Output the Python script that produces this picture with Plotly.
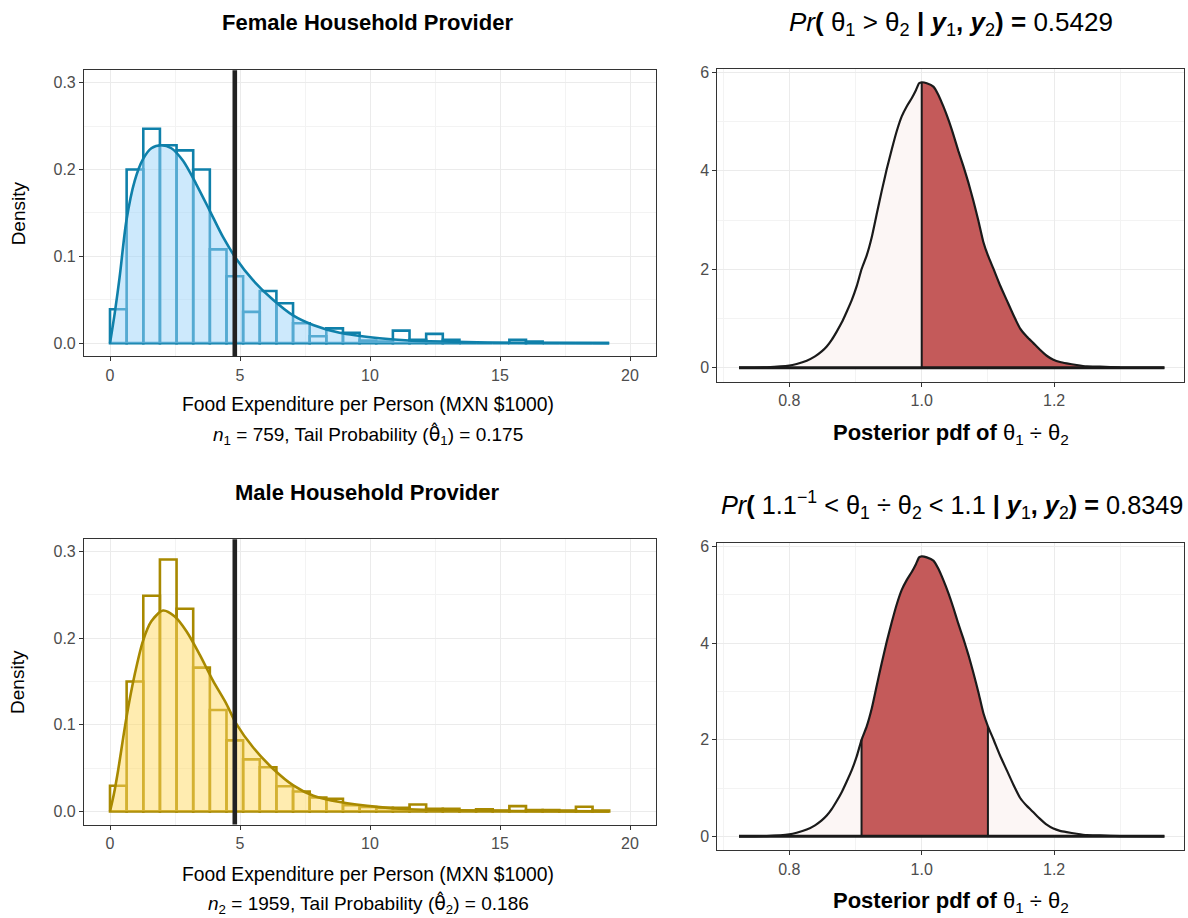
import plotly.graph_objects as go

# ---------------- data ----------------
bin_starts = [0.0, 0.64, 1.28, 1.92, 2.56, 3.2, 3.84, 4.48, 5.12, 5.76,
              6.4, 7.04, 7.68, 8.32, 8.96, 9.6, 10.24, 10.88, 11.52, 12.16,
              12.8, 13.44, 14.08, 14.72, 15.36, 16.0, 16.64, 17.28, 17.92, 18.56]
bin_width = 0.64

female_density = [0.039, 0.200, 0.247, 0.228, 0.222, 0.200, 0.108, 0.077, 0.036, 0.060,
                  0.046, 0.023, 0.008, 0.017, 0.012, 0.003, 0.002, 0.0145, 0.004, 0.0107,
                  0.004, 0.0, 0.0, 0.0, 0.004, 0.002, 0.0, 0.0, 0.0, 0.0]
male_density = [0.0295, 0.150, 0.249, 0.291, 0.234, 0.166, 0.117, 0.082, 0.060, 0.051,
                0.029, 0.023, 0.016, 0.0146, 0.007, 0.005, 0.004, 0.004, 0.008, 0.003,
                0.003, 0.001, 0.0024, 0.001, 0.006, 0.0015, 0.0015, 0.0008, 0.0054, 0.0008]

female_curve_x = [0, 0.18, 0.37, 0.63, 0.95, 1.27, 1.59, 1.98, 2.36, 2.81, 3.32, 3.83, 4.35,
                  4.86, 5.5, 6.27, 7.04, 7.81, 8.83, 10.37, 11.5, 13.3, 15.5, 19.2]
female_curve_y = [0, 0.034, 0.076, 0.141, 0.187, 0.212, 0.2245, 0.228, 0.2245, 0.210, 0.183,
                  0.153, 0.122, 0.097, 0.0725, 0.050, 0.032, 0.021, 0.012, 0.0057, 0.003,
                  0.0015, 0.0005, 0.0]
male_curve_x = [0, 0.15, 0.31, 0.63, 0.95, 1.27, 1.59, 2.04, 2.49, 2.94, 3.45, 3.96, 4.48,
                4.86, 5.5, 6.28, 7.05, 7.82, 8.84, 10.37, 11.5, 13.3, 15.5, 19.2]
male_curve_y = [0, 0.02, 0.047, 0.108, 0.158, 0.197, 0.2195, 0.232, 0.225, 0.208, 0.181,
                0.151, 0.124, 0.101, 0.074, 0.049, 0.030, 0.018, 0.0107, 0.0049, 0.0025,
                0.0012, 0.0004, 0.0]

threshold = 4.8
n1, n2 = 759, 1959
tail1, tail2 = 0.175, 0.186

ratio_x = [0.724, 0.7659, 0.8, 0.8111, 0.8263, 0.8388, 0.8489, 0.8565, 0.864, 0.8716,
           0.8791, 0.8867, 0.8943, 0.9018, 0.9091, 0.9169, 0.9245, 0.932, 0.9396, 0.9471,
           0.9547, 0.9622, 0.9698, 0.9773, 0.9849, 0.9914, 0.996, 1.0, 1.0076, 1.0176,
           1.0252, 1.0327, 1.0403, 1.0478, 1.0554, 1.0629, 1.0705, 1.078, 1.0856, 1.0932,
           1.1, 1.1083, 1.1183, 1.1284, 1.1385, 1.1485, 1.1586, 1.1687, 1.1787, 1.1888,
           1.1989, 1.2089, 1.219, 1.2341, 1.2492, 1.2693, 1.2995, 1.3666]
ratio_dens = [0.0, 0.0067, 0.040, 0.074, 0.141, 0.229, 0.330, 0.430, 0.565, 0.733,
              0.915, 1.137, 1.372, 1.655, 2.0, 2.280, 2.650, 3.121, 3.592, 4.029,
              4.433, 4.803, 5.105, 5.307, 5.475, 5.643, 5.778, 5.798, 5.778, 5.711,
              5.542, 5.307, 5.038, 4.735, 4.399, 4.096, 3.760, 3.390, 2.986, 2.549,
              2.28, 2.011, 1.675, 1.372, 1.069, 0.800, 0.632, 0.498, 0.363, 0.242,
              0.161, 0.114, 0.087, 0.054, 0.027, 0.020, 0.007, 0.0]

prob_greater = 0.5429
prob_interval = 0.8349
ratio_cut = 1.0
interval_lo, interval_hi = 0.9091, 1.1

# ---------------- styles ----------------
FONT = "Liberation Sans, Arial, Helvetica, sans-serif"
BLUE = "#0F80AA"
BLUE_FILL = "rgba(155,211,249,0.5)"
GOLD = "#A88900"
GOLD_FILL = "rgba(255,217,97,0.5)"
RED = "#C45A5A"
LIGHT = "#FCF6F5"
INK = "#1A1A1A"

W, H = 1188, 918


def px_x(a, b):
    return [a / W, b / W]


def px_y(top, bottom):
    return [1 - bottom / H, 1 - top / H]


fig = go.Figure()

bin_centers = [s + bin_width / 2 for s in bin_starts]


def add_hist(dens, cx, cy, color, fill, xa, ya):
    fig.add_trace(go.Bar(x=bin_centers, y=dens, width=bin_width,
                         marker=dict(color="rgba(0,0,0,0)", line=dict(color=color, width=2.6)),
                         xaxis=xa, yaxis=ya, showlegend=False, hoverinfo="skip"))
    fig.add_trace(go.Scatter(x=cx, y=cy, mode="lines", fill="tozeroy", fillcolor=fill,
                             line=dict(color=color, width=2.6, shape="spline", smoothing=0.8),
                             xaxis=xa, yaxis=ya, showlegend=False, hoverinfo="skip"))


add_hist(female_density, female_curve_x, female_curve_y, BLUE, BLUE_FILL, "x", "y")
add_hist(male_density, male_curve_x, male_curve_y, GOLD, GOLD_FILL, "x3", "y3")

SPL = dict(shape="spline", smoothing=0.5)


def add_posterior(xa, ya, lo, hi, cuts):
    fig.add_trace(go.Scatter(x=ratio_x, y=ratio_dens, mode="lines", fill="tozeroy",
                             fillcolor=LIGHT, line=dict(width=0, **SPL), xaxis=xa, yaxis=ya,
                             showlegend=False, hoverinfo="skip"))
    sx = [x for x in ratio_x if lo <= x <= hi]
    sy = [d for x, d in zip(ratio_x, ratio_dens) if lo <= x <= hi]
    fig.add_trace(go.Scatter(x=sx, y=sy, mode="lines", fill="tozeroy",
                             fillcolor=RED, line=dict(width=0, **SPL), xaxis=xa, yaxis=ya,
                             showlegend=False, hoverinfo="skip"))
    for c in cuts:
        d = ratio_dens[ratio_x.index(c)]
        fig.add_trace(go.Scatter(x=[c, c], y=[0, d], mode="lines",
                                 line=dict(color=INK, width=2), xaxis=xa, yaxis=ya,
                                 showlegend=False, hoverinfo="skip"))
    fig.add_trace(go.Scatter(x=[ratio_x[0], ratio_x[-1]], y=[0, 0], mode="lines",
                             line=dict(color=INK, width=3), xaxis=xa, yaxis=ya,
                             showlegend=False, hoverinfo="skip"))
    fig.add_trace(go.Scatter(x=ratio_x, y=ratio_dens, mode="lines",
                             line=dict(color=INK, width=2.2, **SPL), xaxis=xa, yaxis=ya,
                             showlegend=False, hoverinfo="skip"))


add_posterior("x2", "y2", ratio_cut, ratio_x[-1], [ratio_cut])
add_posterior("x4", "y4", interval_lo, interval_hi, [interval_lo, interval_hi])

# threshold lines
for xr, yr in (("x", "y domain"), ("x3", "y3 domain")):
    fig.add_shape(type="line", x0=threshold, x1=threshold, y0=0, y1=1, xref=xr, yref=yr,
                  line=dict(color="#222222", width=4.6), layer="above")

axis_common = dict(showline=True, mirror=True, linecolor="#333333", linewidth=1.1,
                   ticks="outside", ticklen=4, tickwidth=1, tickcolor="#333333",
                   showgrid=True, gridcolor="#EBEBEB", gridwidth=1.3, zeroline=False,
                   tickfont=dict(family=FONT, size=16, color="#4D4D4D"))

left_x = dict(range=[-1.0, 21.0], tickvals=[0, 5, 10, 15, 20],
              minor=dict(tickvals=[2.5, 7.5, 12.5, 17.5], showgrid=True,
                         gridcolor="#F3F3F3", gridwidth=0.7, ticks=""))
left_y = dict(range=[-0.0152, 0.3142], tickvals=[0, 0.1, 0.2, 0.3], tickformat=".1f",
              minor=dict(tickvals=[0.05, 0.15, 0.25], showgrid=True,
                         gridcolor="#F3F3F3", gridwidth=0.7, ticks=""))
right_x = dict(range=[0.6912, 1.3962], tickvals=[0.8, 1.0, 1.2], tickformat=".1f",
               minor=dict(tickvals=[0.7, 0.9, 1.1, 1.3], showgrid=True,
                          gridcolor="#F3F3F3", gridwidth=0.7, ticks=""))
right_y = dict(range=[-0.29, 6.075], tickvals=[0, 2, 4, 6],
               minor=dict(tickvals=[1, 3, 5], showgrid=True,
                          gridcolor="#F3F3F3", gridwidth=0.7, ticks=""))

fig.update_layout(
    width=W, height=H, margin=dict(l=0, r=0, t=0, b=0),
    paper_bgcolor="white", plot_bgcolor="white", showlegend=False,
    font=dict(family=FONT, color="black"),
    xaxis=dict(domain=px_x(84, 656), anchor="y", **axis_common, **left_x),
    yaxis=dict(domain=px_y(65.7, 353.3), anchor="x", **axis_common, **left_y),
    xaxis2=dict(domain=px_x(717.3, 1184), anchor="y2", **axis_common, **right_x),
    yaxis2=dict(domain=px_y(64, 379), anchor="x2", **axis_common, **right_y),
    xaxis3=dict(domain=px_x(84, 656), anchor="y3", **axis_common, **left_x),
    yaxis3=dict(domain=px_y(537.3, 824), anchor="x3", **axis_common, **left_y),
    xaxis4=dict(domain=px_x(717.3, 1184), anchor="y4", **axis_common, **right_x),
    yaxis4=dict(domain=px_y(541, 850), anchor="x4", **axis_common, **right_y),
)


def ann(text, x, y, size, angle=0):
    fig.add_annotation(text=text, x=x / W, y=1 - y / H, xref="paper", yref="paper",
                       xanchor="center", yanchor="middle", showarrow=False, textangle=angle,
                       font=dict(family=FONT, size=size, color="black"))


left_c = 368
right_c = (717.3 + 1184) / 2
HAT = '<span style="font-family:DejaVu Sans">θ̂</span>'

ann("<b>Female Household Provider</b>", 367, 18, 22)
ann("<b>Male Household Provider</b>", 367, 490, 22)
ann("Food Expenditure per Person (MXN $1000)", left_c, 402, 19.3)
ann("Food Expenditure per Person (MXN $1000)", left_c, 874, 19.3)
ann(f"<i>n</i><sub>1</sub> = {n1}, Tail Probability ({HAT}<sub>1</sub>) = {tail1:.3f}", left_c, 432, 19)
ann(f"<i>n</i><sub>2</sub> = {n2}, Tail Probability ({HAT}<sub>2</sub>) = {tail2:.3f}", left_c, 904, 19)
ann("Density", 18, (65.7 + 353.3) / 2, 19, -90)
ann("Density", 18, (537.3 + 824) / 2, 19, -90)

ann(f"<i>Pr</i><b>(</b> θ<sub>1</sub> &gt; θ<sub>2</sub> <b>| <i>y</i></b><sub>1</sub><b>, <i>y</i></b><sub>2</sub><b>) =</b> {prob_greater}",
    right_c, 19, 26)
ann(f"<i>Pr</i><b>(</b> 1.1<sup>−1</sup> &lt; θ<sub>1</sub> ÷ θ<sub>2</sub> &lt; 1.1 <b>| <i>y</i></b><sub>1</sub><b>, <i>y</i></b><sub>2</sub><b>) =</b> {prob_interval}",
    952, 503, 25.3)
ann("<b>Posterior pdf of</b> θ<sub>1</sub> ÷ θ<sub>2</sub>", right_c, 431, 22)
ann("<b>Posterior pdf of</b> θ<sub>1</sub> ÷ θ<sub>2</sub>", right_c, 902, 22)

fig.write_html("out.html")
